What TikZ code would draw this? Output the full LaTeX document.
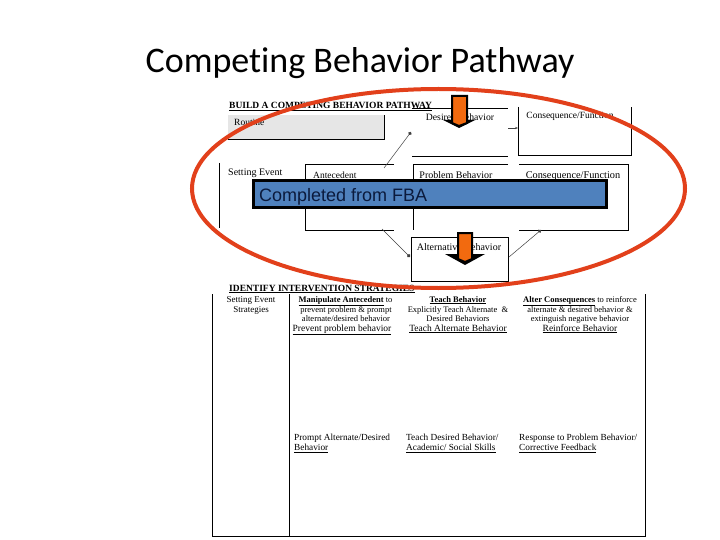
\documentclass[tikz,border=0pt]{standalone}
\usepackage{fontspec}
\setmainfont{Liberation Serif}
\newfontfamily\titlefont[Ligatures=CommonOff]{Carlito}
\newfontfamily\boxfont{Liberation Sans}
\usetikzlibrary{arrows.meta,shapes.geometric}
\definecolor{ringred}{HTML}{E2401B}
\definecolor{bluebar}{HTML}{4F81BD}
\definecolor{darktext}{HTML}{0B1A3C}
\definecolor{orangefill}{HTML}{F26A0F}
\definecolor{routinegray}{HTML}{E6E6E6}
\tikzset{
  frame/.style={draw=black,line width=0.8pt},
  lab/.style={inner sep=0pt,font=\fontsize{8.5}{10}\selectfont},
  labc/.style={lab,anchor=base},
  labl/.style={lab,anchor=base west},
  head/.style={inner sep=0pt,anchor=base west,font=\bfseries\fontsize{9.5}{11}\selectfont},
  big/.style={inner sep=0pt,anchor=base,font=\fontsize{9.5}{11}\selectfont},
  low/.style={labl,font=\fontsize{9.3}{11}\selectfont},
  link/.style={draw=black!75,line width=0.5pt,-{Circle[length=3.5pt]}},
  downarrow/.style={draw=black,line width=2pt,fill=orangefill,line join=miter},
}
\begin{document}
\begin{tikzpicture}[x=1pt,y=-1pt]
\useasboundingbox (0,0) rectangle (720,540);
\fill[white] (0,0) rectangle (720,540);

\node[inner sep=0pt,anchor=base,font=\titlefont\fontsize{36}{42}\selectfont] (title) at (360,73) {Competing Behavior Pathway};

% upper form
\node[head] (buildhead) at (229,109) {\underline{BUILD A COMPETING BEHAVIOR PATHWAY}};
\fill[routinegray] (228,115) rectangle (384,139);
\draw[frame] (228,139) -- (384,139) -- (384,115);
\node[labl,font=\fontsize{9.5}{11}\selectfont] (routine) at (234,126) {Routine};

\draw[frame] (412,108) -- (508,108);
\draw[frame] (412,156) -- (508,156);
\node[labc,font=\fontsize{9.7}{11}\selectfont] (desired) at (460,120.5) {Desired Behavior};

\draw[frame] (518,107) -- (518,155) -- (631,155) -- (631,107);
\node[labc,font=\fontsize{9.5}{11}\selectfont] (conseqtop) at (570,118.5) {Consequence/Function};

\draw[frame] (219,163) -- (219,228);
\node[labl,font=\fontsize{10}{12}\selectfont] (setting) at (228,176) {Setting Event};

\draw[frame] (394,164) -- (305,164) -- (305,230) -- (394,230);
\node[labl,font=\fontsize{9.5}{11}\selectfont] (antecedent) at (313,179) {Antecedent};

\draw[frame] (508,164) -- (413,164) -- (413,230);
\node[labc,font=\fontsize{10}{12}\selectfont] (problem) at (456,179) {Problem Behavior};

\draw[frame] (519,164) -- (628,164) -- (628,230) -- (519,230);
\node[labc,font=\fontsize{10.3}{12}\selectfont] (conseqmid) at (573,179) {Consequence/Function};

\draw[frame] (411,237) rectangle (508,281);
\node[labc,font=\fontsize{10}{12}\selectfont] (alternate) at (459,250.5) {Alternative Behavior};

% connectors
\coordinate (a1) at (384,168); \coordinate (a2) at (411,132);
\coordinate (b1) at (508,128); \coordinate (b2) at (518,128);
\coordinate (c1) at (382,229); \coordinate (c2) at (410,257);
\coordinate (d1) at (509,257); \coordinate (d2) at (541,230);
\draw[link] (a1) -- (a2);
\draw[link,-{Stealth[length=3pt]}] (b1) -- (b2);
\draw[link] (c1) -- (c2);
\draw[link] (d1) -- (d2);

% lower form
\node[head] (identhead) at (229,291) {\underline{IDENTIFY INTERVENTION STRATEGIES}};

% red ring
\node[draw=ringred,line width=4pt,shape=ellipse,inner sep=0pt,minimum width=493pt,minimum height=199pt] (ring) at (438.5,188.5) {};
\fill[white] (205,293) rectangle (650,297);

\draw[frame,line width=1pt] (212,294) -- (212,536) -- (645,536) -- (645,294);
\draw[frame,line width=1pt] (289,294) -- (289,536);

\node[labc,font=\fontsize{9}{11}\selectfont] (s1) at (251,302) {Setting Event};
\node[labc,font=\fontsize{9}{11}\selectfont] (s2) at (251,312) {Strategies};

\node[labc] (m1) at (345.5,302) {\textbf{\underline{Manipulate Antecedent}} to};
\node[labc] (m2) at (346,312) {prevent problem \& prompt};
\node[labc] (m3) at (346,321) {alternate/desired behavior};
\node[big] (m4) at (342,331) {\underline{Prevent problem behavior}};

\node[labc] (t1) at (458,302) {\textbf{\underline{Teach Behavior}}};
\node[labc] (t2) at (458,312) {Explicitly Teach Alternate\ \ \&};
\node[labc] (t3) at (458,321) {Desired Behaviors};
\node[big] (t4) at (458,331) {\underline{Teach Alternate Behavior}};

\node[labc] (r1) at (580,302) {\textbf{\underline{Alter Consequences}} to reinforce};
\node[labc] (r2) at (580,312) {alternate \& desired behavior \&};
\node[labc] (r3) at (580,321) {extinguish negative behavior};
\node[big] (r4) at (580,331) {\underline{Reinforce Behavior}};

\node[low] (p1) at (294,440) {Prompt Alternate/Desired};
\node[low] (p2) at (294,450.5) {\underline{Behavior}};
\node[low] (q1) at (406,440) {Teach Desired Behavior/};
\node[low] (q2) at (406,450.5) {\underline{Academic/ Social Skills}};
\node[low] (w1) at (519,440) {Response to Problem Behavior/};
\node[low] (w2) at (519,450.5) {\underline{Corrective Feedback}};

% orange arrows
\fill[black] (443,120) -- (475,120) -- (459,128) -- cycle;
\draw[downarrow] (452,96) -- (467,96) -- (467,123) -- (459,126) -- (452,123) -- cycle;
\fill[black] (445,254) -- (485,254) -- (465,265) -- cycle;
\draw[downarrow] (458,233) -- (472,233) -- (472,259) -- (465,262) -- (458,259) -- cycle;

% banner
\node[draw=black,line width=3pt,fill=bluebar,minimum width=353pt,minimum height=27pt,inner sep=0pt] (bar) at (429.5,194.5) {};
\node[inner sep=0pt,anchor=base west,text=darktext,font=\boxfont\fontsize{18}{21}\selectfont] (barlabel) at (259,201.5) {Completed from FBA};
\end{tikzpicture}
\end{document}
